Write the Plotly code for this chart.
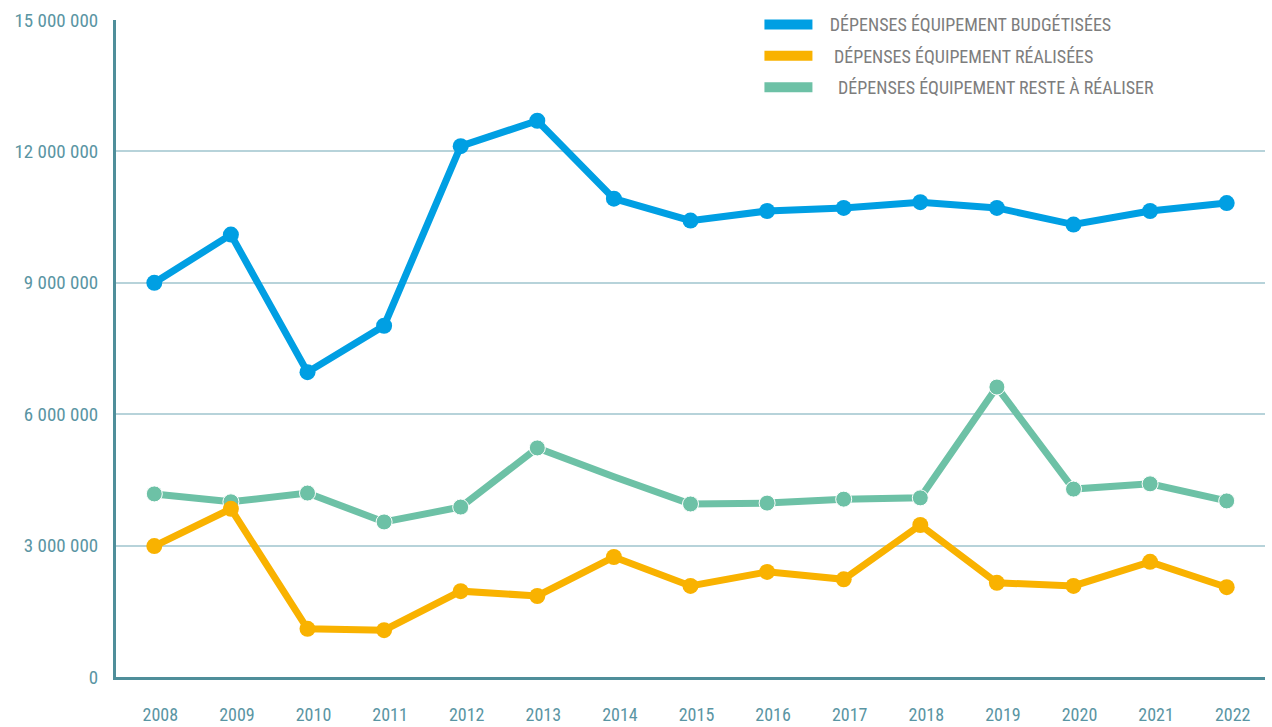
import plotly.graph_objects as go

years = ["2008", "2009", "2010", "2011", "2012", "2013", "2014", "2015",
         "2016", "2017", "2018", "2019", "2020", "2021", "2022"]

budgetisees = [9.0e6, 10.1e6, 6.96e6, 8.02e6, 12.12e6, 12.7e6, 10.92e6, 10.42e6,
               10.64e6, 10.71e6, 10.84e6, 10.71e6, 10.33e6, 10.64e6, 10.82e6]
realisees = [2.99e6, 3.84e6, 1.10e6, 1.07e6, 1.96e6, 1.85e6, 2.74e6, 2.08e6,
             2.40e6, 2.23e6, 3.47e6, 2.15e6, 2.08e6, 2.63e6, 2.05e6]
reste = [4.18e6, 4.0e6, 4.2e6, 3.54e6, 3.88e6, 5.23e6, 4.57e6, 3.95e6,
         3.97e6, 4.06e6, 4.09e6, 6.62e6, 4.29e6, 4.41e6, 4.02e6]
# 2014 has no marker on the "reste à réaliser" line
reste_marker = [16, 16, 16, 16, 16, 16, 0, 16, 16, 16, 16, 16, 16, 16, 16]

names = ["\u00a0\u00a0\u00a0DÉPENSES ÉQUIPEMENT BUDGÉTISÉES",
         "\u00a0\u00a0\u00a0\u00a0DÉPENSES ÉQUIPEMENT RÉALISÉES",
         "\u00a0\u00a0\u00a0\u00a0\u00a0DÉPENSES ÉQUIPEMENT RESTE À RÉALISER"]

y_ticks = [0, 3e6, 6e6, 9e6, 12e6, 15e6]
y_ticktext = ["0", "3 000 000", "6 000 000", "9 000 000", "12 000 000", "15 000 000"]

BLUE = "#009fe3"
ORANGE = "#f9b200"
GREEN = "#6dc1a6"
AXIS = "#4f8e9a"
TICK = "#5a95a3"
GRID = "#b7d3da"
FONT = "Roboto Condensed"

fig = go.Figure()

# data lines (orange drawn last, on top)
fig.add_trace(go.Scatter(x=years, y=budgetisees, mode="lines+markers",
                         line=dict(color=BLUE, width=7),
                         marker=dict(size=16, color=BLUE), showlegend=False))
fig.add_trace(go.Scatter(x=years, y=reste, mode="lines+markers",
                         line=dict(color=GREEN, width=7),
                         marker=dict(size=reste_marker, color=GREEN, opacity=1),
                         showlegend=False))
fig.add_trace(go.Scatter(x=years, y=realisees, mode="lines+markers",
                         line=dict(color=ORANGE, width=7),
                         marker=dict(size=16, color=ORANGE), showlegend=False))

# legend entries (flat colour swatches)
for nm, col in zip(names, [BLUE, ORANGE, GREEN]):
    fig.add_trace(go.Scatter(x=[None], y=[None], mode="lines", name=nm,
                             legendgroup=nm,
                             line=dict(color=col, width=12)))

fig.update_layout(
    width=1272, height=727,
    margin=dict(l=116, r=7, t=20, b=50, autoexpand=False),
    paper_bgcolor="white", plot_bgcolor="white",
    showlegend=True,
    legend=dict(x=0.56, y=1.021, xanchor="left", yanchor="top",
                bgcolor="rgba(0,0,0,0)", itemwidth=48, tracegroupgap=5,
                font=dict(family=FONT, size=18, color="#7d7d7d"),
                itemclick=False, itemdoubleclick=False),
    # white panel behind the legend, hiding the top gridline there
    shapes=[dict(type="rect", xref="paper", yref="paper",
                 x0=0.532, x1=1.01, y0=0.97, y1=1.04,
                 fillcolor="white", line=dict(width=0), layer="above")],
    xaxis=dict(type="category", range=[-0.5, 14.5], showgrid=False,
               showline=True, linecolor=AXIS, linewidth=3,
               ticks="", ticklabelstandoff=19, ticklabelshift=6,
               tickfont=dict(family=FONT, size=18, color=TICK),
               zeroline=False, fixedrange=True),
    yaxis=dict(range=[0, 15e6], tickvals=y_ticks, ticktext=y_ticktext,
               showgrid=True, gridcolor=GRID, gridwidth=1.5,
               showline=True, linecolor=AXIS, linewidth=3,
               ticks="", ticklabelstandoff=11,
               tickfont=dict(family=FONT, size=19, color=TICK),
               zeroline=False, fixedrange=True),
)

fig.write_html("out.html")
